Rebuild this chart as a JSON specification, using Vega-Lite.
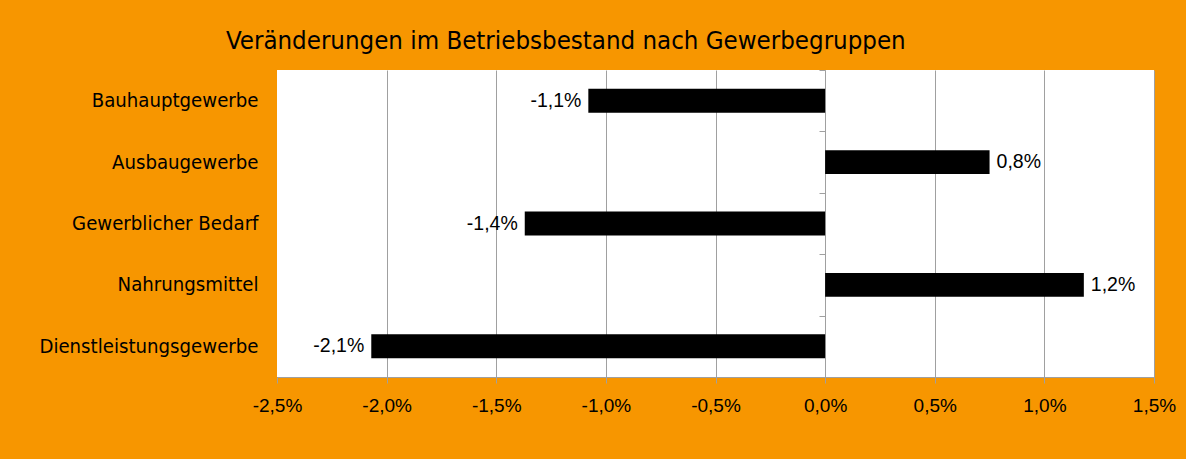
{
  "$schema": "https://vega.github.io/schema/vega-lite/v6.json",
  "autosize": {"type": "none"},
  "width": 877,
  "height": 307,
  "padding": {"left": 277, "top": 70, "right": 32, "bottom": 82},
  "background": "#F79600",
  "config": {
    "locale": {"number": {"decimal": ",", "thousands": ".", "grouping": [3], "currency": ["", " €"], "minus": "-"}},
    "view": {"fill": "white", "stroke": null},
    "axis": {"labelFont": "Liberation Sans", "labelColor": "black"}
  },
  "title": {
    "text": "Veränderungen im Betriebsbestand nach Gewerbegruppen",
    "font": "'DejaVu Sans Condensed', Roboto, sans-serif",
    "fontSize": 25.6,
    "fontWeight": "normal",
    "color": "black",
    "anchor": "start",
    "frame": "group",
    "dx": -51,
    "offset": -20,
    "baseline": "bottom"
  },
  "data": {
    "values": [
      {"gruppe": "Bauhauptgewerbe", "wert": -0.0108},
      {"gruppe": "Ausbaugewerbe", "wert": 0.0075},
      {"gruppe": "Gewerblicher Bedarf", "wert": -0.0137},
      {"gruppe": "Nahrungsmittel", "wert": 0.0118},
      {"gruppe": "Dienstleistungsgewerbe", "wert": -0.0207}
    ]
  },
  "encoding": {
    "y": {
      "field": "gruppe",
      "type": "nominal",
      "sort": null,
      "title": null,
      "scale": {"paddingInner": 0, "paddingOuter": 0},
      "axis": {
        "orient": "left",
        "offset": -548,
        "domain": true,
        "domainColor": "#A0A0A0",
        "domainWidth": 1,
        "ticks": true,
        "tickBand": "extent",
        "tickSize": 6,
        "tickColor": "#A0A0A0",
        "labelPadding": 561,
        "labelFont": "'DejaVu Sans Condensed', Roboto, sans-serif",
        "labelFontSize": 20.2,
        "labelLimit": 400,
        "grid": false
      }
    },
    "x": {
      "field": "wert",
      "type": "quantitative",
      "title": null,
      "scale": {"domain": [-0.025, 0.015], "nice": false},
      "axis": {
        "values": [-0.025, -0.02, -0.015, -0.01, -0.005, 0, 0.005, 0.01, 0.015],
        "format": ".1%",
        "grid": true,
        "gridColor": {"condition": {"test": "datum.value == -0.025", "value": "transparent"}, "value": "#A0A0A0"},
        "domainColor": "#A0A0A0",
        "tickColor": "#A0A0A0",
        "tickSize": 6,
        "labelFontSize": 19,
        "labelPadding": 13,
        "labelFlush": false
      }
    }
  },
  "layer": [
    {"mark": {"type": "bar", "color": "black", "height": {"band": 0.39}}},
    {
      "transform": [{"filter": "datum.wert < 0"}],
      "mark": {"type": "text", "align": "right", "dx": -7, "font": "Liberation Sans", "fontSize": 19.5, "color": "black"},
      "encoding": {"text": {"field": "wert", "type": "quantitative", "format": ".1%"}}
    },
    {
      "transform": [{"filter": "datum.wert > 0"}],
      "mark": {"type": "text", "align": "left", "dx": 7, "font": "Liberation Sans", "fontSize": 19.5, "color": "black"},
      "encoding": {"text": {"field": "wert", "type": "quantitative", "format": ".1%"}}
    }
  ]
}
